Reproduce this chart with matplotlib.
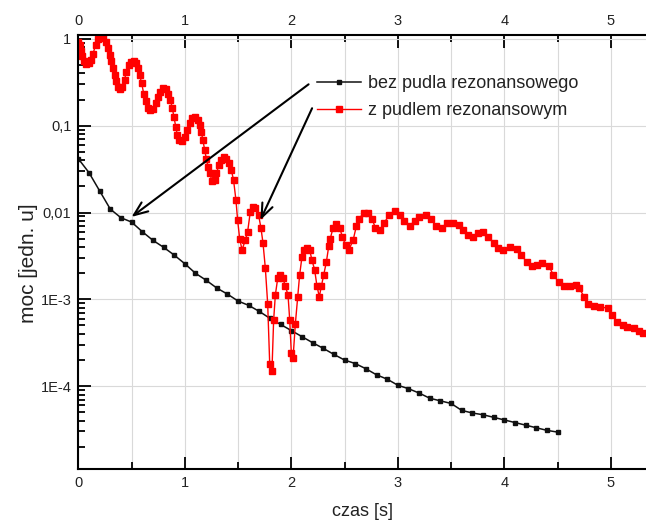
import matplotlib
matplotlib.use("Agg")
import matplotlib.pyplot as plt
import numpy as np

plt.rcParams['font.family'] = ['Liberation Sans', 'DejaVu Sans']

# czas [s] / log10(moc) -- bez pudla rezonansowego
black_t = [0.0, 0.1, 0.2, 0.3, 0.4, 0.5, 0.6, 0.7, 0.8, 0.9,
           1.0, 1.1, 1.2, 1.3, 1.4, 1.5, 1.6, 1.7, 1.8, 1.9,
           2.0, 2.1, 2.2, 2.3, 2.4, 2.5, 2.6, 2.7, 2.8, 2.9,
           3.0, 3.1, 3.2, 3.3, 3.4, 3.5, 3.6, 3.7, 3.8, 3.9,
           4.0, 4.1, 4.2, 4.3, 4.4, 4.5]
black_log = [-1.38, -1.54, -1.75, -1.96, -2.06, -2.11, -2.22, -2.32, -2.40, -2.49,
             -2.59, -2.70, -2.78, -2.87, -2.94, -3.02, -3.07, -3.14, -3.22, -3.29,
             -3.36, -3.43, -3.50, -3.565, -3.635, -3.70, -3.74, -3.80, -3.87, -3.92,
             -3.99, -4.03, -4.08, -4.14, -4.17, -4.20, -4.28, -4.31, -4.33, -4.36,
             -4.39, -4.42, -4.45, -4.48, -4.51, -4.53]

# z pudlem rezonansowym
red_t = [0.0, 0.02, 0.028, 0.038, 0.05, 0.075, 0.10, 0.122, 0.138, 0.163,
         0.185, 0.207, 0.232, 0.257, 0.278, 0.294, 0.31, 0.326, 0.341, 0.357,
         0.373, 0.388, 0.413, 0.435, 0.45, 0.476, 0.498, 0.52, 0.545, 0.56,
         0.576, 0.595, 0.614, 0.632, 0.654, 0.676, 0.701, 0.726, 0.748, 0.77,
         0.795, 0.82, 0.842, 0.864, 0.883, 0.898, 0.914, 0.93, 0.95, 0.977,
         0.999, 1.02, 1.046, 1.071, 1.096, 1.121, 1.14, 1.155, 1.17, 1.186,
         1.202, 1.218, 1.233, 1.258, 1.28, 1.296, 1.321, 1.343, 1.368, 1.39,
         1.415, 1.437, 1.458, 1.48, 1.496, 1.515, 1.537, 1.568, 1.59, 1.615,
         1.64, 1.662, 1.693, 1.715, 1.734, 1.756, 1.778, 1.797, 1.818, 1.834,
         1.85, 1.872, 1.897, 1.922, 1.944, 1.969, 1.985, 2.0, 2.016, 2.038,
         2.06, 2.078, 2.1, 2.122, 2.147, 2.172, 2.194, 2.219, 2.241, 2.263,
         2.282, 2.304, 2.329, 2.351, 2.366, 2.391, 2.423, 2.454, 2.48, 2.51,
         2.54, 2.58, 2.61, 2.64, 2.68, 2.72, 2.76, 2.79, 2.83, 2.87,
         2.92, 2.97, 3.02, 3.06, 3.11, 3.16, 3.20, 3.26, 3.31, 3.36,
         3.41, 3.46, 3.52, 3.57, 3.61, 3.66, 3.71, 3.75, 3.80, 3.85,
         3.90, 3.94, 3.99, 4.05, 4.12, 4.16, 4.21, 4.26, 4.31, 4.35,
         4.42, 4.46, 4.51, 4.56, 4.62, 4.67, 4.70, 4.75, 4.79, 4.84,
         4.90, 4.97, 5.01, 5.06, 5.11, 5.15, 5.22, 5.26, 5.30]
red_log = [-0.03, -0.07, -0.14, -0.20, -0.26, -0.29, -0.28, -0.24, -0.17, -0.07,
           -0.005, 0.02, 0.007, -0.03, -0.11, -0.19, -0.26, -0.34, -0.42, -0.49,
           -0.55, -0.58, -0.55, -0.47, -0.38, -0.30, -0.27, -0.26, -0.28, -0.34,
           -0.42, -0.51, -0.63, -0.72, -0.80, -0.82, -0.81, -0.74, -0.67, -0.61,
           -0.56, -0.58, -0.63, -0.70, -0.80, -0.90, -1.01, -1.11, -1.17, -1.18,
           -1.13, -1.05, -0.97, -0.91, -0.90, -0.93, -0.99, -1.07, -1.17, -1.28,
           -1.38, -1.47, -1.55, -1.64, -1.62, -1.55, -1.45, -1.39, -1.36, -1.38,
           -1.43, -1.51, -1.63, -1.856, -2.09, -2.30, -2.43, -2.32, -2.22, -1.99,
           -1.94, -1.95, -2.03, -2.18, -2.35, -2.64, -3.05, -3.74, -3.83, -3.24,
           -2.95, -2.76, -2.72, -2.76, -2.85, -2.95, -3.24, -3.62, -3.68, -3.28,
           -2.97, -2.72, -2.51, -2.43, -2.41, -2.43, -2.55, -2.66, -2.85, -2.97,
           -2.85, -2.72, -2.57, -2.39, -2.30, -2.18, -2.13, -2.18, -2.28, -2.38,
           -2.43, -2.32, -2.16, -2.07, -2.00, -2.00, -2.08, -2.18, -2.20, -2.12,
           -2.03, -1.98, -2.03, -2.10, -2.15, -2.10, -2.05, -2.03, -2.07, -2.16,
           -2.18, -2.12, -2.12, -2.14, -2.20, -2.26, -2.28, -2.24, -2.23, -2.28,
           -2.35, -2.41, -2.43, -2.40, -2.42, -2.49, -2.57, -2.62, -2.60, -2.58,
           -2.62, -2.72, -2.80, -2.85, -2.85, -2.83, -2.87, -2.97, -3.05, -3.08,
           -3.09, -3.10, -3.18, -3.26, -3.30, -3.32, -3.33, -3.37, -3.39]

y_ticks = [1e-4, 1e-3, 1e-2, 1e-1, 1]
y_ticklabels = ["1E-4", "1E-3", "0,01", "0,1", "1"]
x_ticks = [0, 1, 2, 3, 4, 5]

txt = "#222222"

fig = plt.figure(figsize=(6.46, 5.22), dpi=100)
ax = fig.add_axes([78.3 / 646, 1 - 469.3 / 522, (646 - 78.3) / 646, (469.3 - 35) / 522])

ax.plot(black_t, 10 ** np.array(black_log), color="#111111", lw=1.1,
        marker="s", ms=3.0, label="bez pudla rezonansowego")
ax.plot(red_t, 10 ** np.array(red_log), color="#ff0000", lw=1.0,
        marker="s", ms=4.0, label="z pudlem rezonansowym")

ax.set_yscale("log")
ax.set_xlim(0, 5.33)
ax.set_ylim(1.1e-5, 1.11)
ax.set_yticks(y_ticks)
ax.set_yticklabels(y_ticklabels)
ax.set_xticks(x_ticks)
ax.set_xticks([0.5, 1.5, 2.5, 3.5, 4.5], minor=True)

ax.grid(True, which="major", color="#d9d9d9", lw=0.8)
ax.xaxis.grid(True, which="minor", color="#d9d9d9", lw=0.8)
ax.set_axisbelow(True)

ax.tick_params(axis="both", which="both", direction="in", colors="black",
               labelcolor=txt, labelsize=10.5, width=1.3)
ax.tick_params(axis="both", which="major", length=9, pad=5)
ax.tick_params(axis="both", which="minor", length=5)
ax.tick_params(axis="x", which="both", top=True, labeltop=True)
ax.tick_params(axis="y", which="both", right=False)
ax.spines["right"].set_visible(False)
for s in ["left", "bottom", "top"]:
    ax.spines[s].set_linewidth(1.5)

fig.text(28 / 646, 1 - 263 / 522, "moc [jedn. u]", rotation=90,
         ha="center", va="center", fontsize=15, color=txt)
fig.text(362 / 646, 1 - 512 / 522, "czas [s]", ha="center", va="center",
         fontsize=13, color=txt)

ax.legend(loc="center left", bbox_to_anchor=(0.42, 0.8566), frameon=False,
          fontsize=13, handlelength=2.45, handletextpad=0.4, labelspacing=0.57,
          borderpad=0, borderaxespad=0, labelcolor=txt)

arrow = dict(arrowstyle="->,head_length=1.0,head_width=0.4", color="black",
             lw=1.5, shrinkA=0, shrinkB=0)
ax.annotate("", xy=(0.50, 0.0089), xytext=(2.162, 0.30), arrowprops=arrow)
ax.annotate("", xy=(1.71, 0.0082), xytext=(2.195, 0.159), arrowprops=arrow)

fig.savefig("out.png", dpi=100)
plt.close(fig)
